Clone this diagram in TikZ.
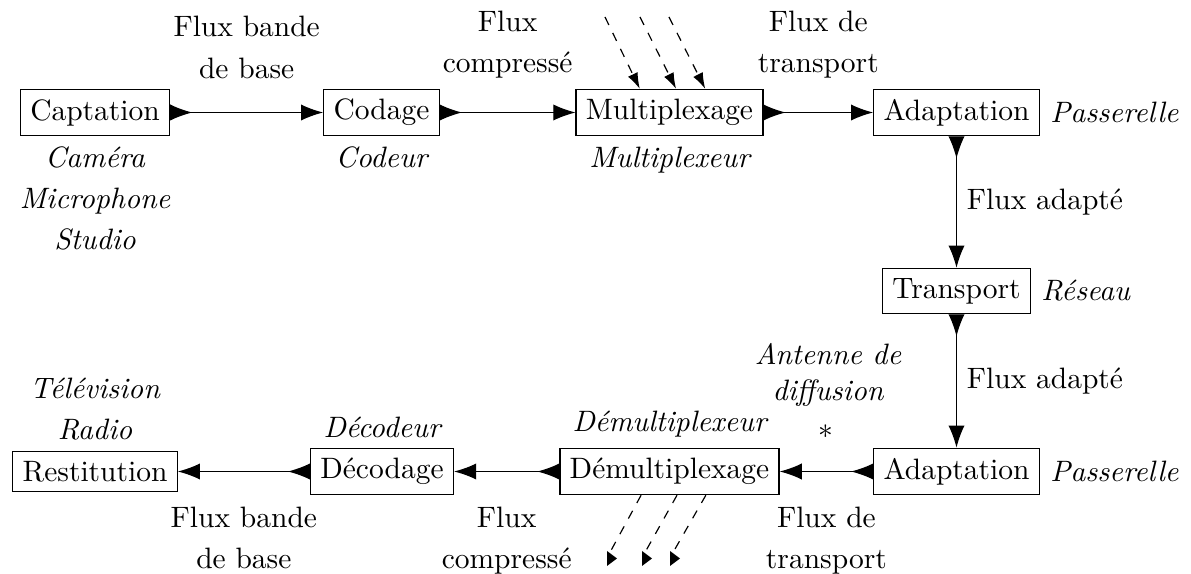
\documentclass[tikz,border=0pt]{standalone}
\usetikzlibrary{arrows.meta,calc}
\begin{document}
\begin{tikzpicture}[x=0.339pt,y=-0.339pt,
  box/.style={draw, inner sep=3.33pt},
  lab/.style={align=center, font=\fontsize{10}{14}\selectfont},
  ilab/.style={align=center, font=\fontsize{10}{14}\selectfont\itshape},
  flow/.style={{Latex[reversed,length=7.5pt,width=5.5pt]}-{Latex[length=7.5pt,width=5.5pt]}},
  feed/.style={dashed, -{Latex[length=5.4pt,width=3.6pt]}},
  drop/.style={dashed}]
\useasboundingbox (0,0) rectangle (1191,574);
% boxes
\node[box] (cap) at (95,112.5) {Captation};
\node[box] (cod) at (381.5,112.5) {Codage};
\node[box] (mux) at (669.5,112.5) {Multiplexage};
\node[box] (ad1) at (956.5,112.5) {Adaptation};
\node[box] (tra) at (956.5,291) {Transport};
\node[box] (ad2) at (956.5,471.5) {Adaptation};
\node[box] (dmx) at (669.5,471.5) {Démultiplexage};
\node[box] (dec) at (382,471.5) {Décodage};
\node[box] (res) at (95,471.5) {Restitution};
% flows
\draw[flow] (cap) -- node[lab, above=8pt] {Flux bande\\de base} (cod);
\draw[flow] (cod) -- node[lab, above=8pt] {Flux\\compressé} (mux);
\draw[flow] (mux) -- node[lab, above=8pt] {Flux de\\transport} (ad1);
\draw[flow] (ad1) -- node[lab, right] {Flux adapté} (tra);
\draw[flow] (tra) -- node[lab, right] {Flux adapté} (ad2);
\draw[flow] (ad2) -- node[lab, below=8.5pt] {Flux de\\transport} (dmx);
\draw[flow] (dmx) -- node[lab, below=8.5pt] {Flux\\compressé} (dec);
\draw[flow] (dec) -- node[lab, below=8.5pt] {Flux bande\\de base} (res);
% italic labels
\node[ilab, anchor=north] (lcap) at (cap.south) {Caméra\\Microphone\\Studio};
\node[ilab, anchor=north] (lcod) at (cod.south) {Codeur};
\node[ilab, anchor=north] (lmux) at (mux.south) {Multiplexeur};
\node[ilab, anchor=west] (lad1) at (ad1.east) {Passerelle};
\node[ilab, anchor=west] (ltra) at (tra.east) {Réseau};
\node[ilab, anchor=west] (lad2) at (ad2.east) {Passerelle};
\node[ilab, anchor=south] (ldmx) at (dmx.north) {Démultiplexeur};
\node[ilab, anchor=south] (ldec) at (dec.north) {Décodeur};
\node[ilab, anchor=south] (lres) at (res.north) {Télévision\\Radio};
\node[align=center, font=\fontsize{10}{12}\selectfont\itshape] (ant) at (828,375) {Antenne de\\diffusion};
\node (ast) at (826,432) {$\ast$};
% incoming dashed streams
\coordinate (t1) at (605,17);
\coordinate (t2) at (640,17);
\coordinate (t3) at (669,17);
\draw[feed] (t1) -- ($(mux.north west)!0.342!(mux.north east)$);
\draw[feed] (t2) -- ($(mux.north west)!0.535!(mux.north east)$);
\draw[feed] (t3) -- ($(mux.north west)!0.690!(mux.north east)$);
% outgoing dashed streams
\coordinate (b1) at (608,556);
\coordinate (b2) at (643,556);
\coordinate (b3) at (671,556);
\draw[drop] ($(dmx.south west)!0.371!(dmx.south east)$) -- (b1);
\draw[drop] ($(dmx.south west)!0.534!(dmx.south east)$) -- (b2);
\draw[drop] ($(dmx.south west)!0.665!(dmx.south east)$) -- (b3);
\fill (607,551) -- (607,566) -- (617,558.5) -- cycle;
\fill (642,551) -- (642,566) -- (652,558.5) -- cycle;
\fill (670,551) -- (670,566) -- (680,558.5) -- cycle;
\end{tikzpicture}
\end{document}
